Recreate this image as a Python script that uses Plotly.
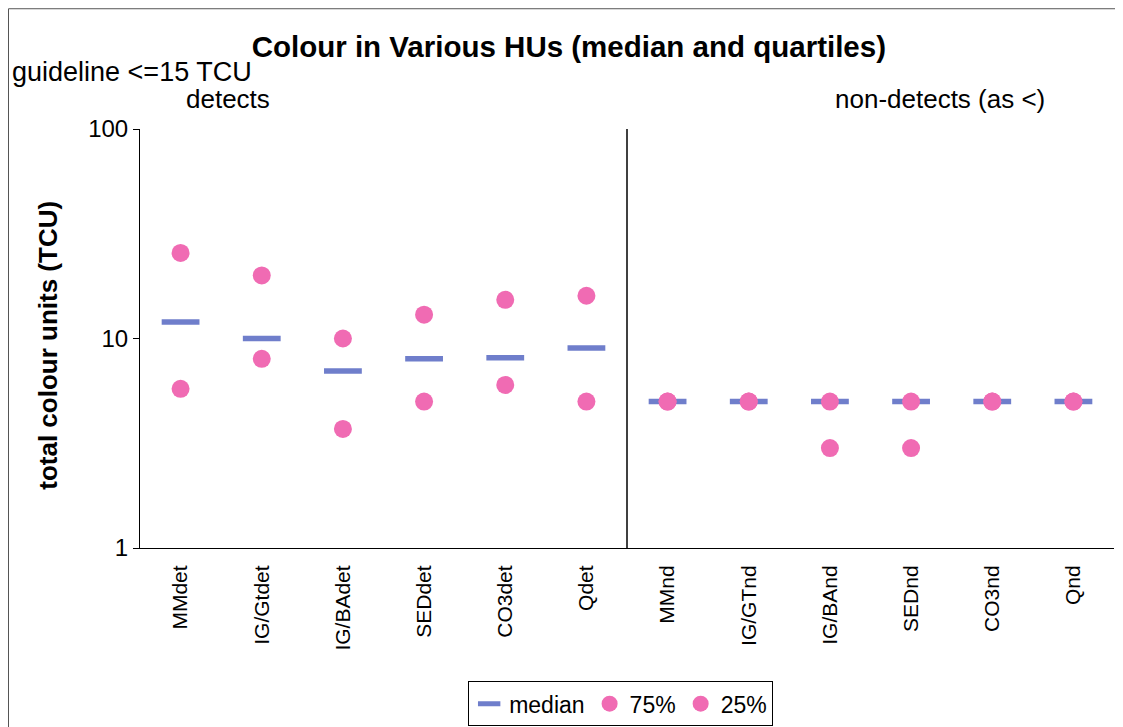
import plotly.graph_objects as go

categories = ["MMdet", "IG/Gtdet", "IG/BAdet", "SEDdet", "CO3det", "Qdet",
              "MMnd", "IG/GTnd", "IG/BAnd", "SEDnd", "CO3nd", "Qnd"]
median = [12, 10, 7, 8, 8.1, 9, 5, 5, 5, 5, 5, 5]
q75 = [25.6, 20, 10, 13, 15.3, 16, 5, 5, 5, 5, 5, 5]
q25 = [5.75, 8, 3.7, 5, 6, 5, 5, 5, 3, 3, 5, 5]

FONT = "Liberation Sans, Arial, sans-serif"
PINK = "#f06bb3"
BLUE = "#6f7ecb"

fig = go.Figure()
fig.add_trace(go.Scatter(
    x=categories, y=median, mode="markers", name="median",
    marker=dict(symbol="line-ew", size=27, color=BLUE,
                line=dict(color=BLUE, width=5.5)),
))
fig.add_trace(go.Scatter(
    x=categories, y=q75, mode="markers", name="75%",
    marker=dict(symbol="circle", size=18, color=PINK, line=dict(width=0)),
))
fig.add_trace(go.Scatter(
    x=categories, y=q25, mode="markers", name="25%",
    marker=dict(symbol="circle", size=18, color=PINK, line=dict(width=0)),
))

# divider between detects and non-detects
fig.add_shape(type="line", xref="x", yref="paper", x0=5.5, x1=5.5, y0=0, y1=1,
              line=dict(color="black", width=1.5))
# outer frame (top and left edges)
fig.add_shape(type="line", xref="paper", yref="paper", x0=-0.135, x1=1.01,
              y0=1.287, y1=1.287, line=dict(color="#555", width=1))
fig.add_shape(type="line", xref="paper", yref="paper", x0=-0.135, x1=-0.135,
              y0=-0.45, y1=1.287, line=dict(color="#555", width=1))

fig.update_layout(
    width=1115, height=719,
    margin=dict(l=132, r=9, t=121, b=179, autoexpand=False),
    paper_bgcolor="white", plot_bgcolor="white",
    font=dict(family=FONT, color="black"),
    title=dict(text="<b>Colour in Various HUs (median and quartiles)</b>",
               x=0.503, xref="container", xanchor="center", y=0.946, yanchor="middle",
               font=dict(size=29.5, family=FONT)),
    showlegend=True,
    legend=dict(orientation="h", x=0.4935, xanchor="center", y=-0.318, yanchor="top",
                bordercolor="black", borderwidth=1, font=dict(size=23, family=FONT),
                itemwidth=30, tracegroupgap=0),
    xaxis=dict(type="category", range=[-0.5, 11.5], tickangle=-90,
               tickfont=dict(size=21), showline=True, linecolor="black",
               linewidth=1, showgrid=False, ticks="", ticklabelstandoff=8,
               automargin=False),
    yaxis=dict(type="log", range=[0, 2], tickvals=[1, 10, 100],
               ticktext=["1", "10", "100"], tickfont=dict(size=24),
               showline=True, linecolor="black", linewidth=1, showgrid=False,
               ticks="outside", ticklen=6, tickcolor="black", automargin=False),
)

fig.add_annotation(text="<b>total colour units (TCU)</b>", xref="paper", yref="paper",
                   x=-0.0945, y=0.485, textangle=-90, xanchor="center", yanchor="middle",
                   showarrow=False, font=dict(size=26, family=FONT))
fig.add_annotation(text="guideline <=15 TCU", xref="paper", yref="paper",
                   x=-0.1335, y=1.136, xanchor="left", yanchor="middle",
                   showarrow=False, font=dict(size=27, family=FONT))
fig.add_annotation(text="detects", xref="paper", yref="paper",
                   x=0.0903, y=1.0716, xanchor="center", yanchor="middle",
                   showarrow=False, font=dict(size=26, family=FONT))
fig.add_annotation(text="non-detects (as <)", xref="paper", yref="paper",
                   x=0.821, y=1.0716, xanchor="center", yanchor="middle",
                   showarrow=False, font=dict(size=26, family=FONT))

fig.write_html("out.html")
